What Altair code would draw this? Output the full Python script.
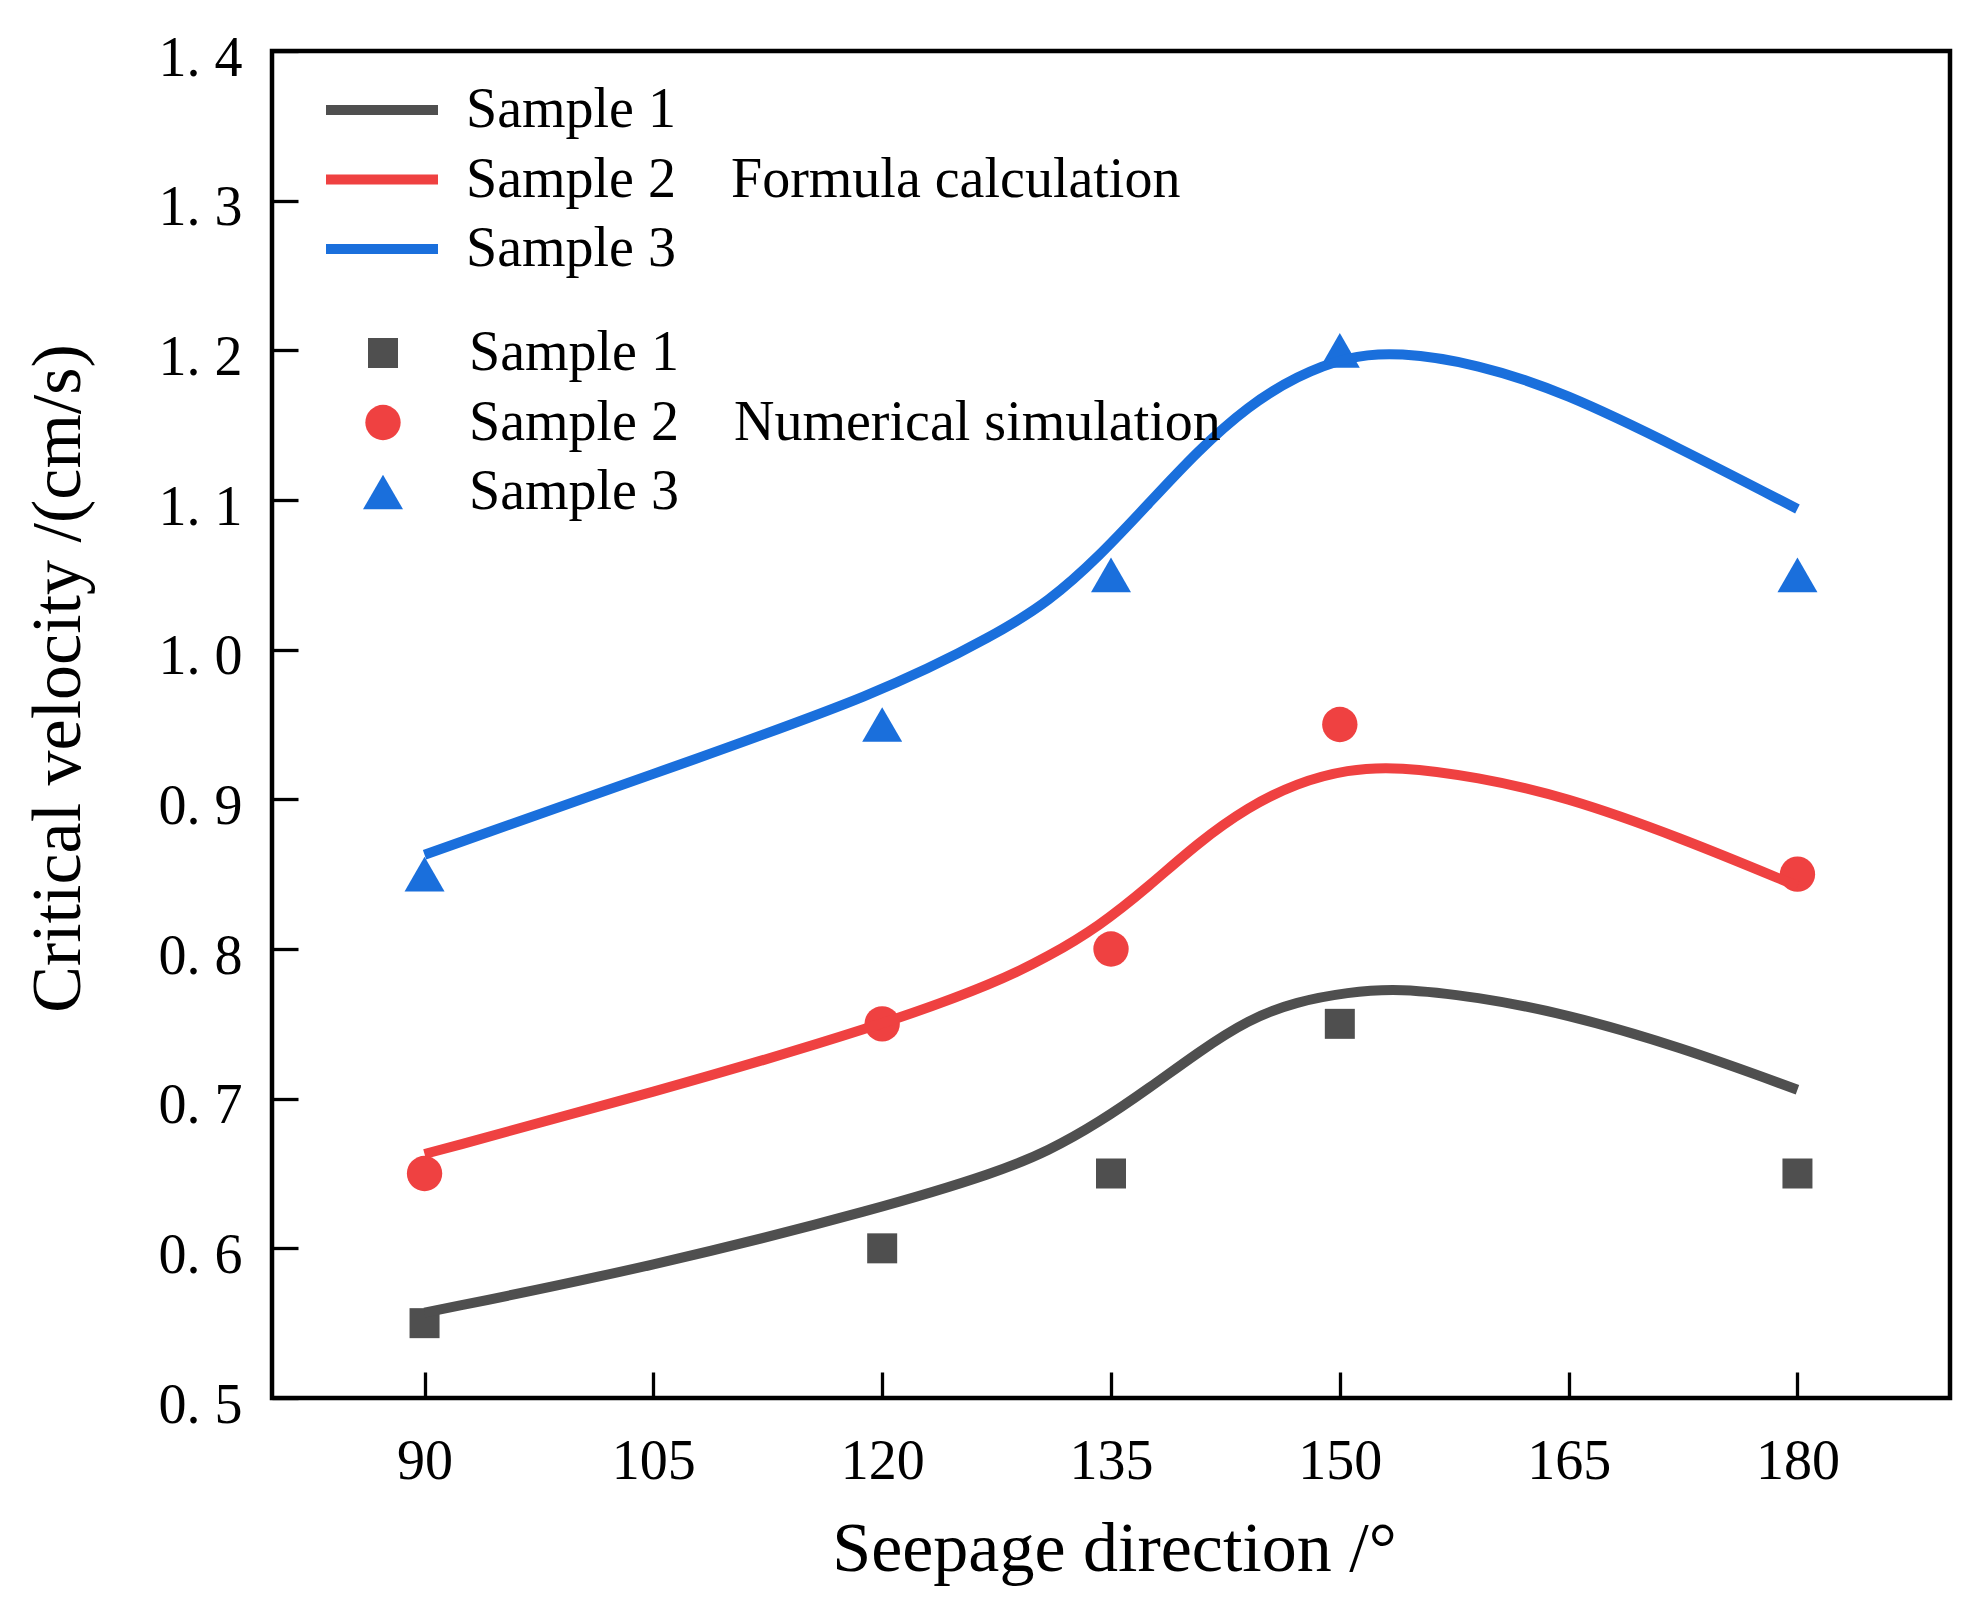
import altair as alt
import pandas as pd

# ---- data ----
samples = ["Sample 1", "Sample 2", "Sample 3"]
colors = ["#4f4f4f", "#ef4141", "#1a6fdc"]
shapes = ["square", "circle", "triangle-up"]

# formula calculation curves (sampled along the drawn curves)
curve_angles = [90, 105, 120, 127.6, 130.9, 134.2, 137.5, 140.7, 144.0, 147.2, 150.5, 153.8, 159.0, 164.7, 172.2, 180]
curve_s1 = [0.557, 0.588, 0.627, 0.651, 0.665, 0.684, 0.707, 0.731, 0.753, 0.765, 0.771, 0.774, 0.768, 0.757, 0.735, 0.706]
curve_s2 = [0.663, 0.704, 0.749, 0.778, 0.795, 0.815, 0.842, 0.871, 0.895, 0.911, 0.920, 0.922, 0.915, 0.902, 0.875, 0.842]
curve_s3 = [0.863, 0.917, 0.971, 1.011, 1.032, 1.062, 1.098, 1.133, 1.163, 1.183, 1.196, 1.199, 1.191, 1.172, 1.135, 1.094]

# numerical simulation points
sim_angles = [90, 120, 135, 150, 180]
sim_s1 = [0.55, 0.60, 0.65, 0.75, 0.65]
sim_s2 = [0.65, 0.75, 0.80, 0.95, 0.85]
sim_s3 = [0.85, 0.95, 1.05, 1.20, 1.05]

x_ticks = [90, 105, 120, 135, 150, 165, 180]
y_ticks = [0.5, 0.6, 0.7, 0.8, 0.9, 1.0, 1.1, 1.2, 1.3, 1.4]

# ---- tables ----
rows = []
for name, vals in zip(samples, [curve_s1, curve_s2, curve_s3]):
    for a, v in zip(curve_angles, vals):
        rows.append({"angle": a, "v": v, "sample": name})
df_lines = pd.DataFrame(rows)

rows = []
for name, vals in zip(samples, [sim_s1, sim_s2, sim_s3]):
    for a, v in zip(sim_angles, vals):
        rows.append({"angle": a, "v": v, "sample": name})
df_pts = pd.DataFrame(rows)

FONT = "Liberation Serif"
TICK = 26

x_enc = alt.X(
    "angle:Q",
    scale=alt.Scale(domain=[80, 190], nice=False, zero=False),
    axis=alt.Axis(
        values=x_ticks, offset=-TICK, tickSize=TICK, tickWidth=3.3, tickColor="black",
        domain=False, grid=False, labelFont=FONT, labelFontSize=56, labelColor="black",
        labelBaseline="alphabetic", labelPadding=80, labelFlush=False,
        titleFont=FONT, titleFontSize=70, titleFontWeight="normal", titleColor="black",
        titleBaseline="alphabetic", titleAlign="center", titleX=842, titleY=198,
    ),
    title="Seepage direction /°",
)
y_enc = alt.Y(
    "v:Q",
    scale=alt.Scale(domain=[0.5, 1.4], nice=False, zero=False),
    axis=alt.Axis(
        values=y_ticks, offset=-TICK, tickSize=TICK, tickWidth=3.3, tickColor="black",
        domain=False, grid=False, labelFont=FONT, labelFontSize=56, labelColor="black",
        labelPadding=30, labelOffset=7, labelFlush=False,
        labelExpr="replace(format(datum.value, '.1f'), '.', '. ')",
        titleFont=FONT, titleFontSize=70, titleFontWeight="normal", titleColor="black",
        titleBaseline="alphabetic", titleAlign="center", titleAngle=270,
        titleX=-219, titleY=627,
    ),
    title="Critical velocity /(cm/s)",
)

line_legend = alt.Legend(
    title="Formula calculation", orient="none", legendX=82, legendY=31,
    titleOrient="right", titleAnchor="middle", titleBaseline="middle", titlePadding=55,
    symbolType="M-4,0H4", symbolSize=784, symbolStrokeWidth=10,
    labelOffset=56,
)
pt_legend = alt.Legend(
    title="Numerical simulation", orient="none", legendX=83, legendY=274,
    titleOrient="right", titleAnchor="middle", titleBaseline="middle", titlePadding=55,
    symbolStrokeWidth=0, labelOffset=58,
)

points = alt.Chart(df_pts).mark_point(filled=True, opacity=1, strokeWidth=0).encode(
    x=x_enc,
    y=y_enc,
    color=alt.Color("sample:N", scale=alt.Scale(domain=samples, range=colors), legend=pt_legend),
    shape=alt.Shape("sample:N", scale=alt.Scale(domain=samples, range=shapes), legend=pt_legend),
    size=alt.Size("sample:N", scale=alt.Scale(type="point", domain=samples, range=[900, 1600]), legend=pt_legend),
)

lines = alt.Chart(df_lines).mark_line(strokeWidth=10, interpolate="basis", strokeCap="butt").encode(
    x=x_enc,
    y=y_enc,
    color=alt.Color("sample:N", scale=alt.Scale(domain=samples, range=colors), legend=line_legend),
)

chart = (
    alt.layer(points, lines)
    .resolve_scale(color="independent", shape="independent", size="independent")
    .properties(
        width=1678, height=1347,
        autosize=alt.AutoSizeParams(type="none"),
        padding={"left": 264, "top": 43, "right": 28, "bottom": 200},
        background="white",
    )
    .configure_view(stroke="black", strokeWidth=4.5)
    .configure_legend(
        labelFont=FONT, labelFontSize=56, labelColor="black",
        titleFont=FONT, titleFontSize=56, titleFontWeight="normal", titleColor="black",
        padding=0, rowPadding=13.5, symbolOpacity=1, labelLimit=400, titleLimit=800,
    )
)

chart.save("out.html", embed_options={"renderer": "svg", "actions": False})
